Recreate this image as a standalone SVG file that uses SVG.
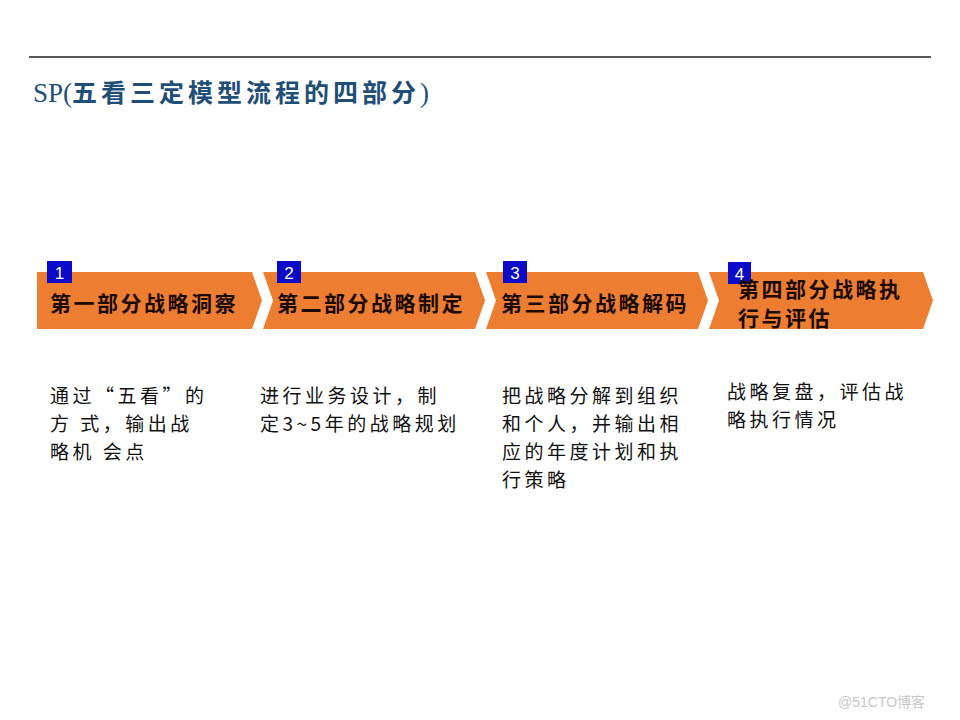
<svg xmlns="http://www.w3.org/2000/svg" width="960" height="720" viewBox="0 0 960 720">
<style>
.chev{fill:#ED7D31;}
.badge{fill:#0A0AC8;}
.num{font-family:"Liberation Sans","Noto Sans",sans-serif;font-size:17px;fill:#FFFFFF;text-anchor:middle;}
.lab{font-family:"Noto Sans CJK SC",sans-serif;font-size:21px;font-weight:700;fill:#1A0A00;letter-spacing:2.5px;}
.desc{font-family:"Noto Sans CJK SC",sans-serif;font-size:19px;font-weight:400;fill:#111111;letter-spacing:3.5px;}
.title{font-family:"Liberation Serif","Noto Sans CJK SC",serif;font-size:25px;font-weight:700;fill:#1F4E79;letter-spacing:4px;}
.wm{font-family:"Liberation Sans","Noto Sans CJK SC",sans-serif;font-size:14px;fill:#C8C8C8;}
</style>
<rect width="960" height="720" fill="#FFFFFF"/>
<line x1="29" y1="57" x2="931" y2="57" stroke="#222222" stroke-width="1.5"/>
<text class="title" x="33" y="102"><tspan font-weight="400" font-size="27" letter-spacing="0">SP(</tspan>五看三定模型流程的四部分<tspan font-weight="400" font-size="27" letter-spacing="0">)</tspan></text>

<g id="connectors"/>

<g id="step1">
<path class="chev" d="M37,272 H252 L262,300.5 L252,329 H37 Z"/>
<rect class="badge" x="47" y="261" width="25" height="22"/>
<text class="num" x="59.5" y="279">1</text>
<text class="lab" x="50" y="311">第一部分战略洞察</text>
<text class="desc" x="50" y="403" letter-spacing="4.5">通过“五看”的</text>
<text class="desc" x="50" y="431">方 式，输出战</text>
<text class="desc" x="50" y="459">略机 会点</text>
</g>

<g id="step2">
<path class="chev" d="M263,272 H475 L485,300.5 L475,329 H263 L273,300.5 Z"/>
<rect class="badge" x="277" y="261" width="24" height="22"/>
<text class="num" x="289" y="279">2</text>
<text class="lab" x="277" y="311">第二部分战略制定</text>
<text class="desc" x="260" y="403">进行业务设计，制</text>
<text class="desc" x="260" y="431" letter-spacing="1.8">定3~5年的战略规划</text>
</g>

<g id="step3">
<path class="chev" d="M486,272 H698 L708,300.5 L698,329 H486 L496,300.5 Z"/>
<rect class="badge" x="503" y="261" width="24" height="22"/>
<text class="num" x="515" y="279">3</text>
<text class="lab" x="501" y="311">第三部分战略解码</text>
<text class="desc" x="502" y="403">把战略分解到组织</text>
<text class="desc" x="502" y="431">和个人，并输出相</text>
<text class="desc" x="502" y="459">应的年度计划和执</text>
<text class="desc" x="502" y="487">行策略</text>
</g>

<g id="step4">
<path class="chev" d="M709,272 H923 L933,300.5 L923,329 H709 L719,300.5 Z"/>
<rect class="badge" x="728" y="262" width="23" height="22"/>
<text class="num" x="739.5" y="280">4</text>
<text class="lab" x="738" y="297">第四部分战略执</text>
<text class="lab" x="738" y="326">行与评估</text>
<text class="desc" x="727" y="399" letter-spacing="4">战略复盘，评估战</text>
<text class="desc" x="727" y="427" letter-spacing="4">略执行情况</text>
</g>

<text class="wm" x="838" y="707">@51CTO博客</text>
</svg>
